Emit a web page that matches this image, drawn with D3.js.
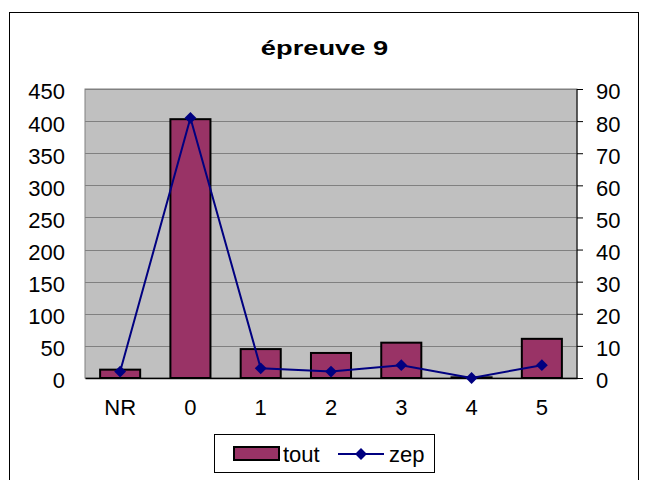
<!DOCTYPE html>
<html><head><meta charset="utf-8">
<script src="https://cdn.jsdelivr.net/npm/d3@7"></script>
<style>body{margin:0;background:#fff}svg{display:block}text{font-family:"Liberation Sans",Arial,sans-serif}</style>
</head><body><svg id="c" width="646" height="480"></svg>
<script>
const categories = ["NR","0","1","2","3","4","5"];
const tout = [13, 403, 45, 39, 55, 1, 61];
const zep = [2, 81, 3, 2, 4, 0, 4];
const leftTicks = [0,50,100,150,200,250,300,350,400,450];
const rightTicks = [0,10,20,30,40,50,60,70,80,90];

const svg = d3.select("#c");
const L=85, R=577, T=89, B=378;
const FF = "Liberation Sans, Arial, sans-serif";
svg.append("rect").attr("x",9.5).attr("y",12.5).attr("width",629).attr("height",480).attr("fill","#fff").attr("stroke","#000").attr("stroke-width",1);
svg.append("text").attr("transform","translate(324.5,55) scale(1.3,1)").attr("text-anchor","middle")
  .attr("font-size",21).attr("font-weight","bold").text("épreuve 9");

const x = d3.scaleBand().domain(categories).range([L,R]);
const yL = d3.scaleLinear().domain([0,450]).range([B,T]);
const yR = d3.scaleLinear().domain([0,90]).range([B,T]);

svg.append("rect").attr("x",L).attr("y",T).attr("width",R-L).attr("height",B-T).attr("fill","#c0c0c0").attr("stroke","#808080");
svg.append("g").selectAll("line").data(leftTicks.slice(1)).join("line")
  .attr("x1",L).attr("x2",R).attr("y1",d=>Math.round(yL(d))+0.5).attr("y2",d=>Math.round(yL(d))+0.5)
  .attr("stroke","#808080").attr("stroke-width",1);

const bw = x.bandwidth()*0.57;
svg.append("g").selectAll("rect").data(tout).join("rect")
  .attr("x",(d,i)=>x(categories[i])+x.bandwidth()/2-bw/2)
  .attr("y",d=>yL(d)).attr("width",bw).attr("height",d=>B-yL(d))
  .attr("fill","#993366").attr("stroke","#000").attr("stroke-width",2);

const gl = svg.append("g").attr("transform",`translate(${L},0)`)
  .call(d3.axisLeft(yL).tickValues(leftTicks).tickSize(0).tickPadding(20));
gl.select(".domain").remove();
gl.selectAll("text").attr("font-size",22).attr("dy","0.45em").attr("fill","#000").style("font-family",FF);

const gr = svg.append("g").attr("transform",`translate(${R},0)`)
  .call(d3.axisRight(yR).tickValues(rightTicks).tickSize(6).tickPadding(13));
gr.select(".domain").attr("stroke","#000").attr("d",`M0,${T}V${B}`);
gr.selectAll("line").attr("stroke","#000");
gr.selectAll("text").attr("font-size",22).attr("dy","0.45em").attr("fill","#000").style("font-family",FF);

const gx = svg.append("g").attr("transform",`translate(0,${B})`)
  .call(d3.axisBottom(x).tickSize(0).tickPadding(21));
gx.select(".domain").attr("stroke","#000").attr("stroke-width",1.5);
gx.selectAll("text").attr("font-size",22).attr("fill","#000").style("font-family",FF);

const line = d3.line().x((d,i)=>x(categories[i])+x.bandwidth()/2).y(d=>yR(d));
svg.append("path").datum(zep).attr("d",line).attr("fill","none").attr("stroke","#000080").attr("stroke-width",2);
const diamond = d3.symbol().type(d3.symbolDiamond2).size(90);
svg.append("g").selectAll("path").data(zep).join("path")
  .attr("transform",(d,i)=>`translate(${x(categories[i])+x.bandwidth()/2},${yR(d)})`)
  .attr("d",diamond).attr("fill","#000080");

const lg = svg.append("g");
lg.append("rect").attr("x",214.5).attr("y",434.5).attr("width",220).attr("height",38).attr("fill","#fff").attr("stroke","#000");
lg.append("rect").attr("x",234).attr("y",447).attr("width",45).attr("height",13).attr("fill","#993366").attr("stroke","#000").attr("stroke-width",2);
lg.append("text").attr("x",283).attr("y",462).attr("font-size",22).text("tout");
lg.append("line").attr("x1",338).attr("x2",384).attr("y1",454).attr("y2",454).attr("stroke","#000080").attr("stroke-width",2);
lg.append("path").attr("transform","translate(361,454)").attr("d",diamond).attr("fill","#000080");
lg.append("text").attr("x",389).attr("y",462).attr("font-size",22).text("zep");
</script></body></html>
